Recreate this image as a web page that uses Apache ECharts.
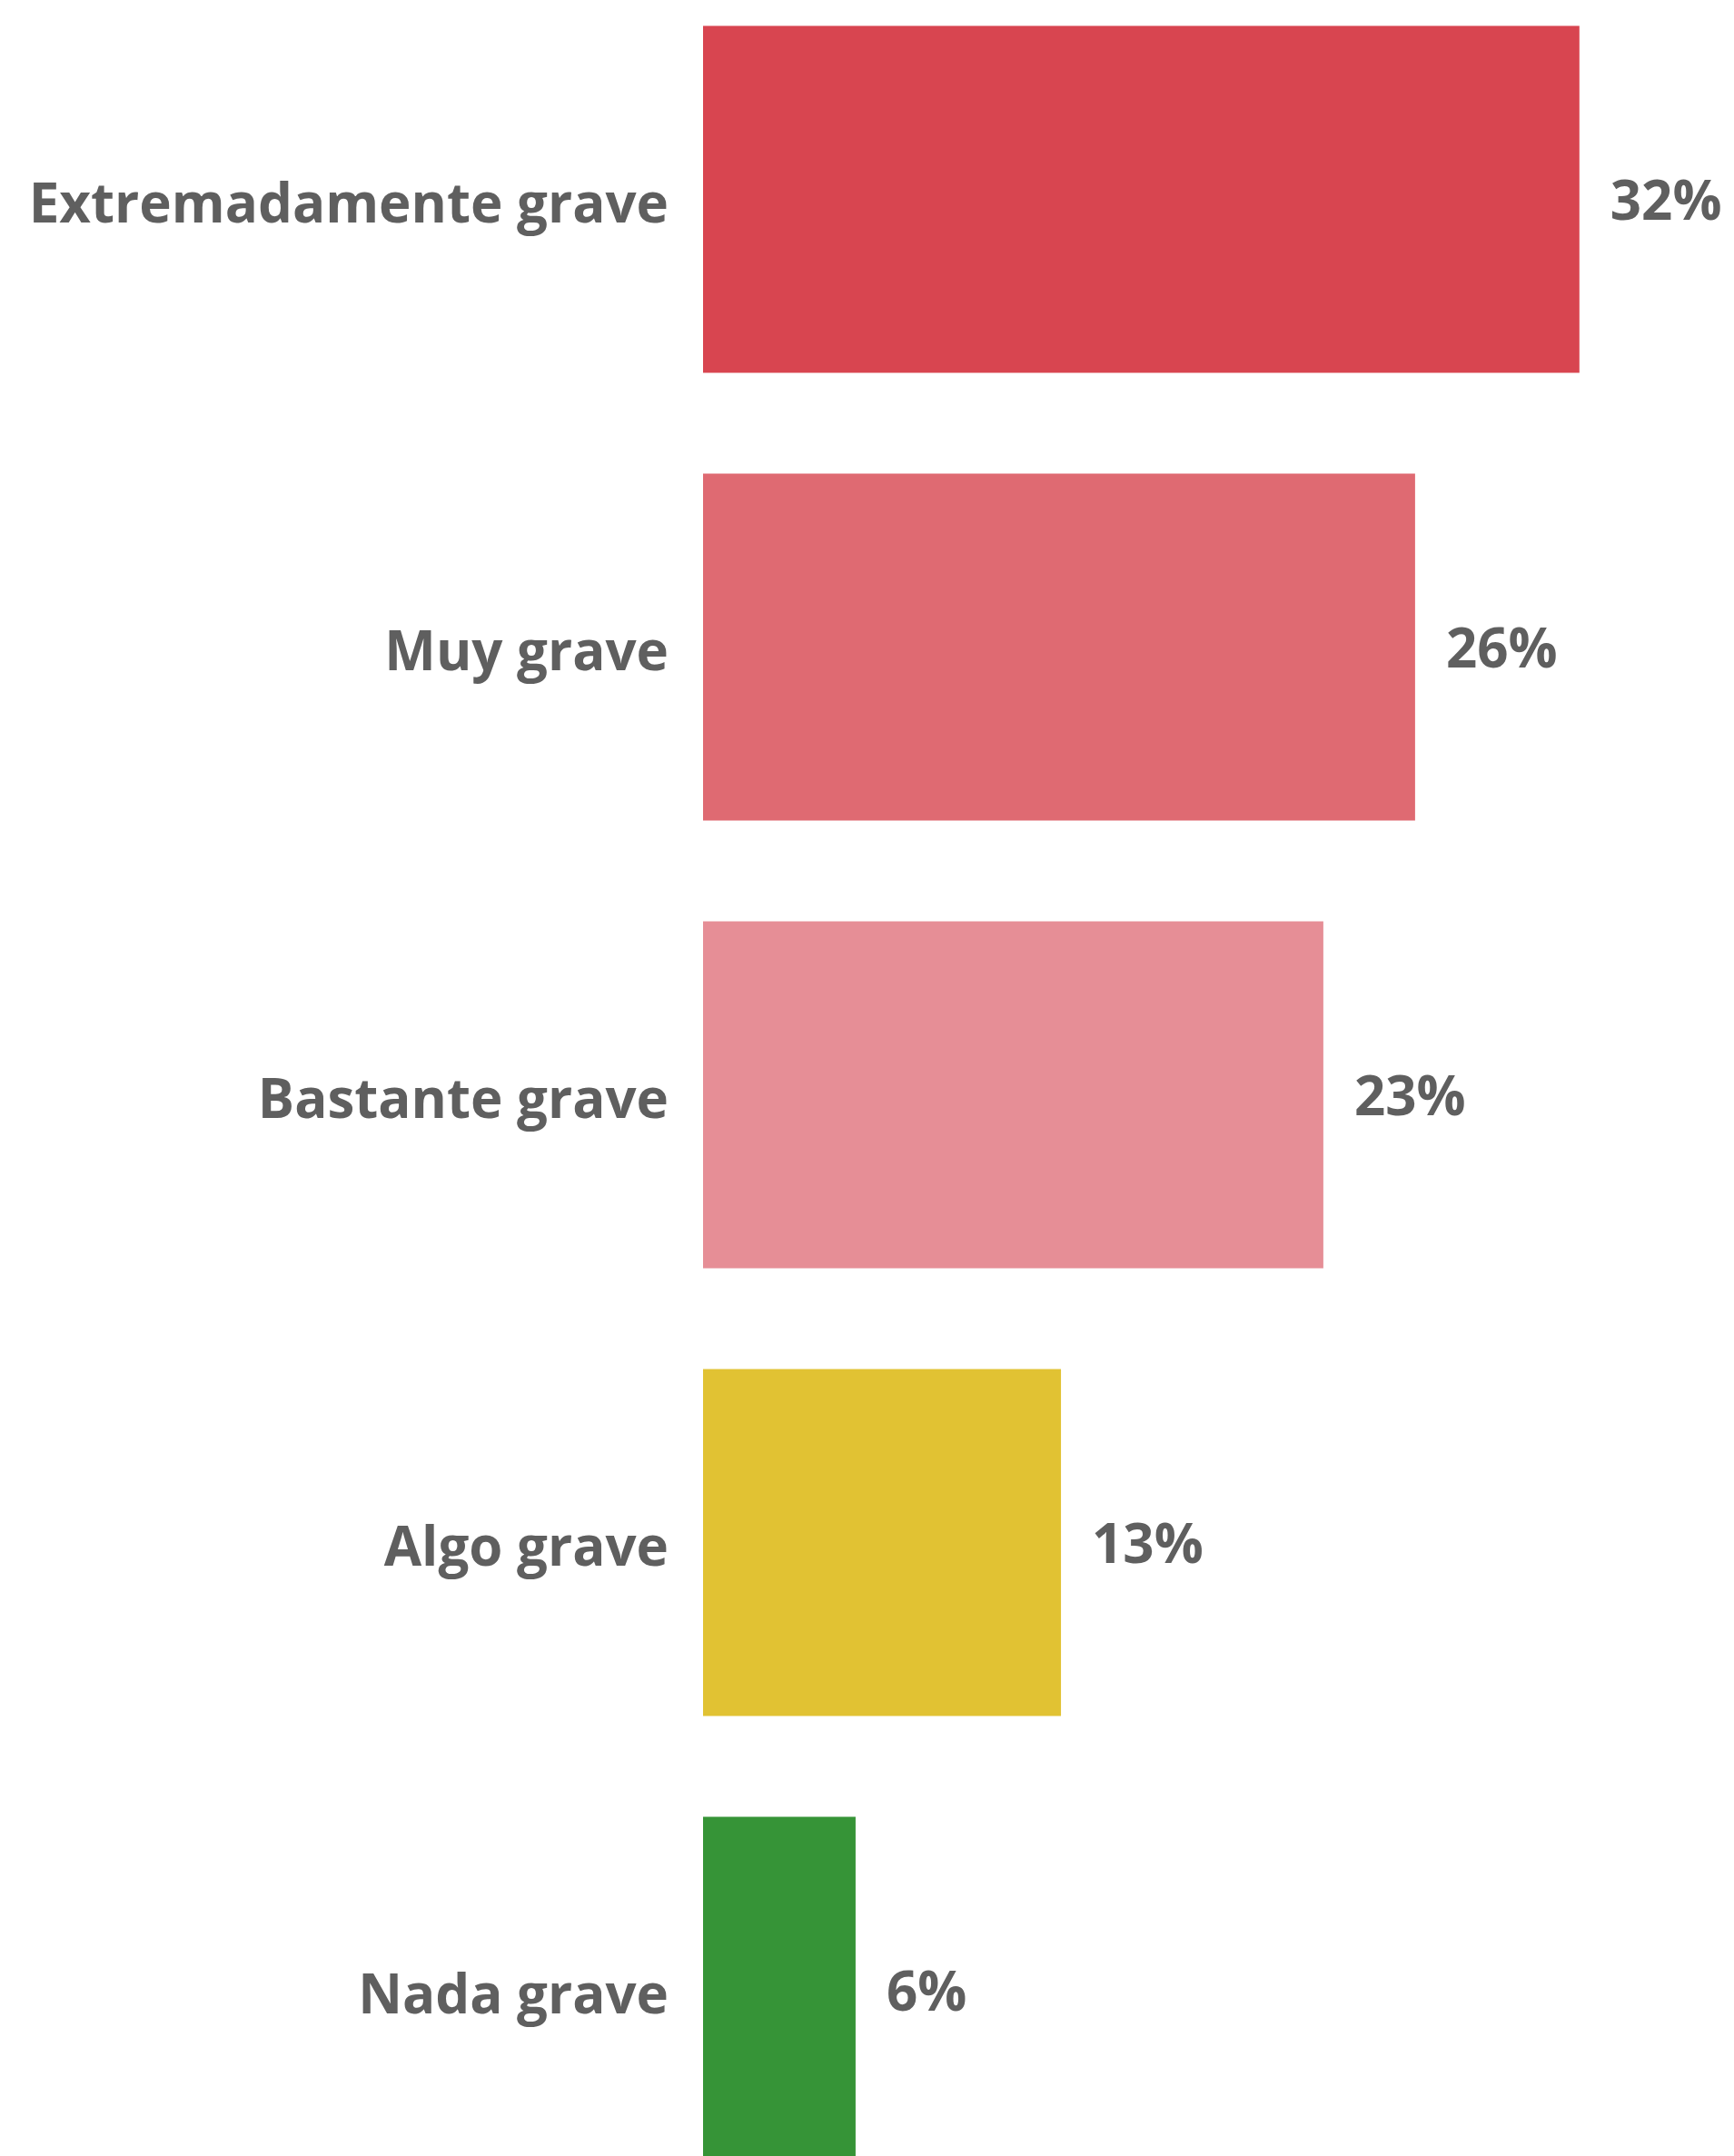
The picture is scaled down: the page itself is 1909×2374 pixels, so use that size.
<!DOCTYPE html>
<html>
<head>
<meta charset="utf-8">
<script src="https://cdn.jsdelivr.net/npm/echarts@6/dist/echarts.min.js"></script>
<style>
html,body{margin:0;padding:0;background:#fff;overflow:hidden;}
#chart{width:1909px;height:2374px;}
</style>
</head>
<body>
<div id="chart"></div>
<script>
const categories = ["Extremadamente grave", "Muy grave", "Bastante grave", "Algo grave", "Nada grave"];
const values = [32.0, 26.0, 22.65, 13.07, 5.57];
const colors = ["#D84550", "#DF6A72", "#E68E96", "#E1C233", "#369437"];

const chart = echarts.init(document.getElementById('chart'));
const textColor = '#5F5F5F';
const fontFamily = '"Open Sans", "Noto Sans", sans-serif';
chart.setOption({
  animation: false,
  backgroundColor: '#ffffff',
  grid: { left: 774, top: -27, width: 30.15 * 35, height: 2465, containLabel: false, outerBoundsMode: 'none' },
  xAxis: {
    type: 'value', min: 0, max: 35,
    show: false
  },
  yAxis: {
    type: 'category',
    data: categories,
    inverse: true,
    axisLine: { show: false },
    axisTick: { show: false },
    splitLine: { show: false },
    axisLabel: {
      margin: 38,
      color: textColor,
      fontSize: 60,
      fontWeight: 'bold',
      fontFamily: fontFamily,
      formatter: v => '{a|' + v + '}',
      rich: {
        a: {
          color: textColor,
          fontSize: 60,
          fontWeight: 'bold',
          fontFamily: fontFamily,
          padding: [16, 0, 0, 0]
        }
      }
    }
  },
  series: [{
    type: 'bar',
    data: values.map((v, i) => ({ value: v, itemStyle: { color: colors[i] } })),
    barCategoryGap: '22.5%',
    label: {
      show: true,
      position: 'right',
      distance: 34,
      offset: [0, 5],
      color: textColor,
      fontSize: 60,
      fontWeight: 'bold',
      fontFamily: fontFamily,
      formatter: p => Math.round(p.value) + '%'
    }
  }]
});
</script>
</body>
</html>
